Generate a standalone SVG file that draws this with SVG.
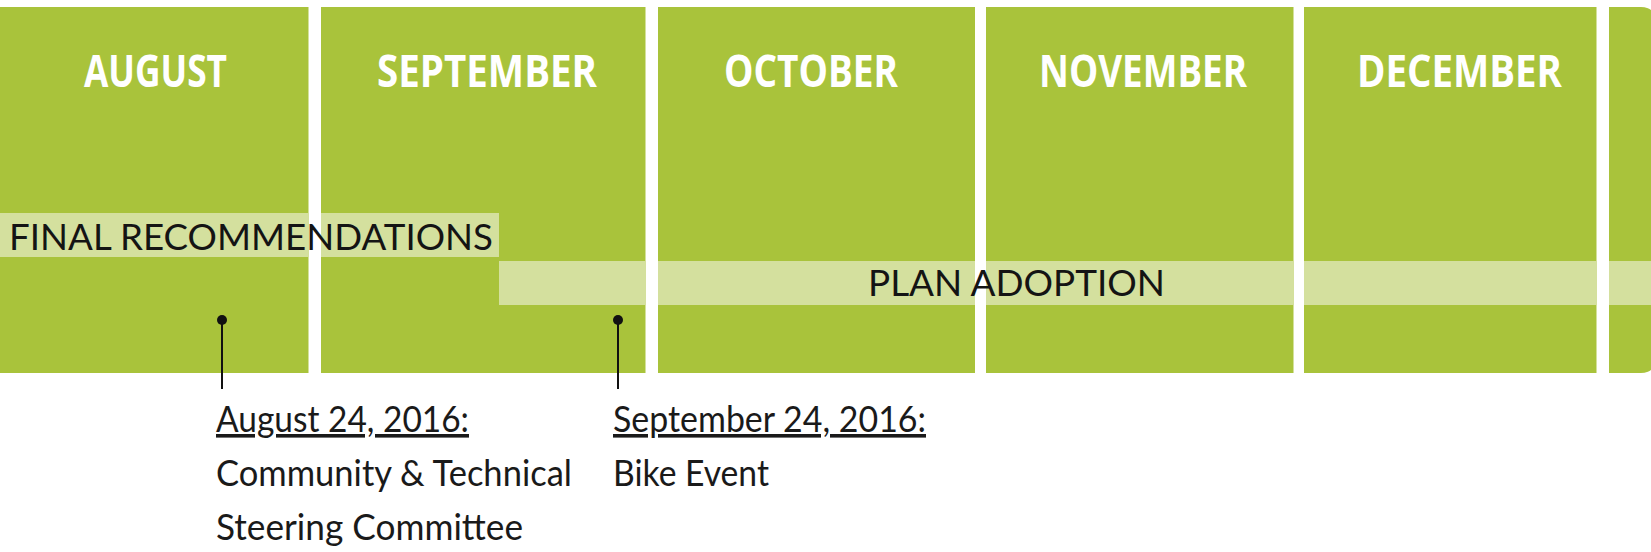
<svg xmlns="http://www.w3.org/2000/svg" width="1651" height="552" viewBox="0 0 1651 552">
  <style>
    .box { fill: #A9C33B; }
    .band { fill: #D4E09E; }
    .month { font-family: "Open Sans", "Liberation Sans", sans-serif; font-weight: 700; font-size: 44px; fill: #FFFFFF; }
    .phase { font-family: Lato, "Liberation Sans", sans-serif; font-size: 37px; fill: #141414; }
    .note { font-family: Lato, "Liberation Sans", sans-serif; font-size: 36px; fill: #1a1a1a; }
    .date { text-decoration: underline; }
    .conn { stroke: #111111; stroke-width: 2; fill: none; }
    .dot { fill: #111111; }
  </style>
  <rect x="0" y="0" width="1651" height="552" fill="#FFFFFF"/>

  <g id="month-august">
    <rect class="box" x="0" y="7" width="308.5" height="366"/>
    <text class="month" x="84" y="87" textLength="143" lengthAdjust="spacingAndGlyphs">AUGUST</text>
  </g>
  <g id="month-september">
    <rect class="box" x="321" y="7" width="324.5" height="366"/>
    <text class="month" x="377" y="87" textLength="220" lengthAdjust="spacingAndGlyphs">SEPTEMBER</text>
  </g>
  <g id="month-october">
    <rect class="box" x="658" y="7" width="317" height="366"/>
    <text class="month" x="724" y="87" textLength="174" lengthAdjust="spacingAndGlyphs">OCTOBER</text>
  </g>
  <g id="month-november">
    <rect class="box" x="986" y="7" width="307.5" height="366"/>
    <text class="month" x="1039" y="87" textLength="208" lengthAdjust="spacingAndGlyphs">NOVEMBER</text>
  </g>
  <g id="month-december">
    <rect class="box" x="1304" y="7" width="292.5" height="366"/>
    <text class="month" x="1357" y="87" textLength="205" lengthAdjust="spacingAndGlyphs">DECEMBER</text>
  </g>
  <g id="month-next">
    <rect class="box" x="1609" y="7" width="50" height="366" rx="18" ry="18"/>
    <rect class="box" x="1609" y="7" width="20" height="366"/>
  </g>

  <g id="phase-final-recommendations">
    <rect class="band" x="0" y="213" width="308.5" height="44"/>
    <rect class="band" x="321" y="213" width="178" height="44"/>
    <text class="phase" x="9" y="250" textLength="484" lengthAdjust="spacingAndGlyphs">FINAL RECOMMENDATIONS</text>
  </g>
  <g id="phase-plan-adoption">
    <rect class="band" x="499" y="261" width="146.5" height="44"/>
    <rect class="band" x="658" y="261" width="317" height="44"/>
    <rect class="band" x="986" y="261" width="307.5" height="44"/>
    <rect class="band" x="1304" y="261" width="292.5" height="44"/>
    <rect class="band" x="1609" y="261" width="42" height="44"/>
    <text class="phase" x="868" y="296" textLength="297" lengthAdjust="spacingAndGlyphs">PLAN ADOPTION</text>
  </g>

  <g id="connectors">
    <line class="conn" x1="222" y1="320" x2="222" y2="389"/>
    <circle class="dot" cx="222" cy="320" r="5"/>
    <line class="conn" x1="618" y1="320" x2="618" y2="389"/>
    <circle class="dot" cx="618" cy="320" r="5"/>
  </g>

  <g id="event-aug-24">
    <text class="note date" x="216" y="432" textLength="253" lengthAdjust="spacingAndGlyphs">August 24, 2016:</text>
    <text class="note" x="216" y="486" textLength="356" lengthAdjust="spacingAndGlyphs">Community &amp; Technical</text>
    <text class="note" x="216" y="540" textLength="307" lengthAdjust="spacingAndGlyphs">Steering Committee</text>
  </g>
  <g id="event-sep-24">
    <text class="note date" x="613" y="432" textLength="313" lengthAdjust="spacingAndGlyphs">September 24, 2016:</text>
    <text class="note" x="613" y="486" textLength="156" lengthAdjust="spacingAndGlyphs">Bike Event</text>
  </g>
</svg>
